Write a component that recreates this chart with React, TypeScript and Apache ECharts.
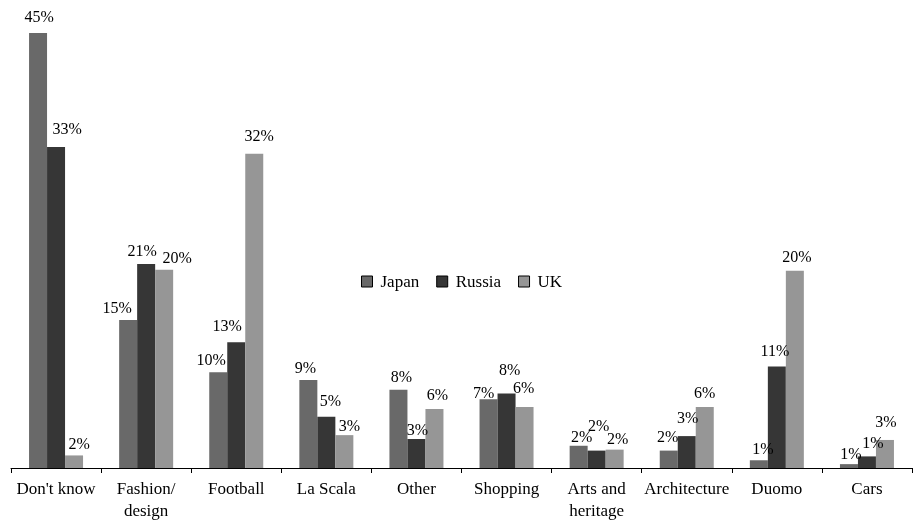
import React, { useEffect, useRef } from "react";
import * as echarts from "echarts";

const categories = ["Don't know", "Fashion/\ndesign", "Football", "La Scala", "Other", "Shopping", "Arts and\nheritage", "Architecture", "Duomo", "Cars"];
const seriesNames = ["Japan", "Russia", "UK"];
const japanValues = [45, 15.3, 9.9, 9.1, 8.1, 7.1, 2.3, 1.8, 0.8, 0.4];
const russiaValues = [33.2, 21.1, 13.0, 5.3, 3.0, 7.7, 1.8, 3.3, 10.5, 1.2];
const ukValues = [1.3, 20.5, 32.5, 3.4, 6.1, 6.3, 1.9, 6.3, 20.4, 2.9];
const japanLabels = ["45%", "15%", "10%", "9%", "8%", "7%", "2%", "2%", "1%", "1%"];
const russiaLabels = ["33%", "21%", "13%", "5%", "3%", "8%", "2%", "3%", "11%", "1%"];
const ukLabels = ["2%", "20%", "32%", "3%", "6%", "6%", "2%", "6%", "20%", "3%"];
const colors = ["#696969", "#363636", "#969696"];

// label placement nudges (style only), [dx, dy] in px, per series per category
const labelNudges = [
  [[1, -1], [-11, 3], [-7, 3], [-3, 3], [3, 3], [-5, 9], [3, 7], [-1, 2], [4, 4], [2, 5]],
  [[11, -3], [-4, 2], [-9, -1], [4, 0], [1, 6], [3, -8], [2, -9], [1, -3], [-2, 0], [6, 2]],
  [[5, 4], [13, 4], [5, -2], [5, 6], [3, 1], [-1, -4], [3, 5], [0, 1], [2, 2], [1, -2]],
];

const FONT = "'Liberation Serif', 'Times New Roman', serif";

export default function App() {
  const ref = useRef<HTMLDivElement>(null);
  useEffect(() => {
    if (!ref.current) return;
    const chart = echarts.init(ref.current, undefined, { renderer: "svg" });
    const values = [japanValues, russiaValues, ukValues];
    const labels = [japanLabels, russiaLabels, ukLabels];
    chart.setOption({
      animation: false,
      textStyle: { fontFamily: FONT, color: "#000" },
      grid: { left: 11, right: 3, top: 33, bottom: 53, containLabel: false },
      legend: {
        left: 356,
        top: 268,
        itemWidth: 11,
        itemHeight: 11,
        itemGap: 17,
        icon: "rect",
        data: seriesNames,
        textStyle: { fontFamily: FONT, fontSize: 17, color: "#000", padding: [0, 0, 0, 3] },
        itemStyle: { borderColor: "#000", borderWidth: 1 },
      },
      xAxis: {
        type: "category",
        data: categories,
        axisLine: { show: true, lineStyle: { color: "#000", width: 1 } },
        axisTick: { show: true, length: 5, interval: 0, lineStyle: { color: "#000", width: 1 } },
        axisLabel: { fontFamily: FONT, fontSize: 17, color: "#000", margin: 9, lineHeight: 22, interval: 0 },
      },
      yAxis: {
        type: "value",
        min: 0,
        max: 45,
        show: false,
        splitLine: { show: false },
      },
      series: seriesNames.map((name, si) => ({
        name,
        type: "bar",
        barWidth: 18,
        barGap: "0%",
        itemStyle: { color: colors[si] },
        data: values[si].map((v, i) => ({
          value: v,
          label: { offset: labelNudges[si][i] },
        })),
        label: {
          show: true,
          position: "top",
          distance: 8,
          fontFamily: FONT,
          fontSize: 16,
          color: "#000",
          formatter: (p: any) => labels[si][p.dataIndex],
        },
      })),
    });
    return () => chart.dispose();
  }, []);
  return <div ref={ref} style={{ position: "fixed", left: 0, top: 0, width: 915, height: 521 }} />;
}
